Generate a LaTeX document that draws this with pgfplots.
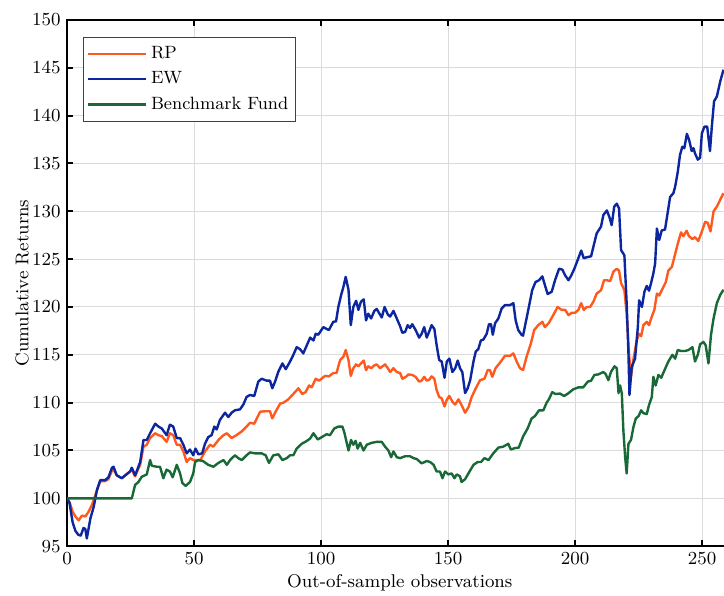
\documentclass[border=0pt]{standalone}
\usepackage{fontspec}
\usepackage{pgfplots}
\pgfplotsset{compat=1.18}
\definecolor{rpc}{RGB}{255,90,30}
\definecolor{ewc}{RGB}{12,38,160}
\definecolor{bmc}{RGB}{25,105,55}
\begin{document}
\fontsize{9.2}{11}\selectfont
\begin{tikzpicture}
\begin{axis}[
  scale only axis, width=332.7pt, height=263pt,
  xmin=0, xmax=262, ymin=95, ymax=150,
  xtick={0,50,100,150,200,250}, ytick={95,100,...,150},
  grid=major, major grid style={black!14, line width=0.5pt},
  axis line style={line width=1pt, black},
  tick style={line width=1pt, black}, major tick length=3pt, tick align=inside,
  /pgf/number format/assume math mode=true,
  xlabel={Out-of-sample observations}, ylabel={Cumulative Returns},
  every axis x label/.style={at={(axis description cs:0.5,-0.0703)}, anchor=center},
  every axis y label/.style={at={(axis description cs:-0.0676,0.5)}, rotate=90, anchor=center},
  legend style={at={(axis description cs:0.024,0.968)}, anchor=north west, draw=black!75, line width=0.6pt, fill=white, font=\fontsize{8.9}{11}\selectfont, inner xsep=1.5pt, inner ysep=2.5pt, row sep=1.2pt},
  legend cell align=left,
  legend image code/.code={\draw[#1] (0pt,0pt) -- (29pt,0pt);},
  every axis plot/.append style={line width=1.2pt, line join=round},
]
\addplot[rpc] table {
0 100
1 99.6
2.2 98.6
3.3 98.1
4.6 97.7
5.9 98.2
7.2 98.1
8.5 98.6
9.8 99.3
11.1 100.3
13.1 101.8
15.0 101.8
16.3 102.0
17.7 102.9
18.3 103.0
19.6 102.4
21.6 102.1
22.9 102.4
24.8 102.8
25.5 103.0
26.8 102.3
28.1 103.1
28.8 103.5
30.1 105.4
31.4 105.6
32.7 106.3
34.7 106.8
36.0 106.6
37.3 106.5
39.2 105.9
40.5 106.8
41.8 106.6
43.2 105.6
44.5 105.6
45.8 104.9
47.1 103.8
48.4 104.2
49.7 104.0
51.0 104.0
52.5 104.0
54.3 104.9
56.3 105.6
57.6 105.4
59.6 106.1
61.6 106.6
62.9 106.8
64.8 106.3
66.7 106.6
68.8 107.0
70.7 107.5
72.0 107.9
73.7 107.8
76.0 109.05
77.9 109.1
79.9 109.1
80.8 108.35
82.1 109.05
83.9 109.9
85.2 110.0
86.9 110.3
88.7 110.8
91.1 111.5
92.6 110.9
93.9 111.1
95.3 111.8
96.3 111.6
97.9 112.5
99.2 112.3
101.6 112.8
103.1 112.75
104.8 113.1
106.1 113.1
107.5 114.45
108.8 114.8
109.7 115.5
110.8 114.45
111.7 112.8
112.7 113.6
113.8 114.0
114.7 113.8
115.7 114.1
116.8 114.4
117.7 113.4
118.6 113.8
119.7 113.6
121.0 113.9
121.9 114.0
123.3 113.6
124.2 113.8
125.2 114.0
126.3 113.6
127.2 113.2
128.5 113.6
129.8 113.2
131.1 113.1
132.0 112.5
133.4 112.7
134.4 112.95
135.9 112.9
137.2 112.7
138.6 112.2
139.6 112.3
140.6 112.7
141.6 112.3
142.6 112.4
143.5 112.75
144.6 112.5
145.5 111.3
146.5 110.6
147.5 110.45
148.6 109.6
149.5 110.3
150.5 110.7
151.7 110.1
152.8 109.8
154.1 110.35
155.3 109.75
156.7 108.95
158.0 109.5
159.3 110.6
160.9 111.5
162.6 112.35
164.3 112.5
165.6 113.4
166.5 113.4
167.4 112.7
168.7 113.6
170.5 114.2
172.4 114.9
174.4 114.9
175.7 115.15
177.0 114.3
178.3 113.6
179.5 113.4
180.9 114.8
182.6 116.2
183.9 117.6
185.5 118.1
187.1 118.45
188.1 117.9
189.7 118.35
191.4 119.15
193.1 120.0
194.7 119.7
196.1 119.7
197.4 119.15
198.7 119.4
200.0 119.4
201.3 119.7
202.4 120.4
203.4 119.7
204.6 120.0
205.9 120.0
207.2 120.55
208.5 121.4
210.2 121.75
211.4 122.8
212.5 122.8
213.8 122.7
215.1 123.7
216.4 124.0
217.3 123.8
218.1 122.5
219.4 121.75
220.3 119.3
221.2 115.15
222.0 112.7
222.9 114.45
224.3 116.55
225.2 117.2
226.0 116.95
226.9 118.1
228.2 118.45
229.1 118.1
230.2 119.0
231.2 119.7
232.2 121.4
233.1 121.2
234.4 121.9
235.7 122.6
236.7 123.8
238.1 124.2
239.1 125.25
240.4 126.6
241.7 127.8
242.6 127.4
243.9 127.97
244.8 127.4
246.2 127.1
247.2 127.3
248.5 126.9
249.9 127.9
251.2 128.9
252.2 128.8
253.3 127.9
254.5 130.0
255.8 130.5
257.1 131.2
258.4 131.9
};
\addlegendentry{RP}
\addplot[ewc] table {
0 100
1 99.5
2.2 97.5
3.3 96.6
4.4 96.2
5.4 96.1
6.5 96.9
7.2 96.8
7.8 95.8
8.6 97.0
9.2 97.9
10.5 99.1
11.8 100.9
13.1 101.9
15.0 101.9
16.3 102.2
17.7 103.2
18.3 103.3
19.6 102.4
21.6 102.1
22.9 102.4
24.8 102.8
25.5 103.2
26.8 102.4
28.1 103.3
28.8 103.8
30.1 106.1
31.4 106.1
32.7 106.8
34.7 107.8
36.0 107.5
37.3 107.3
39.2 106.6
40.5 107.7
41.8 107.5
43.2 106.3
44.5 106.3
45.8 105.6
47.1 104.7
48.4 105.1
49.7 104.5
50.6 105.2
51.7 104.6
53.2 104.7
54.3 105.7
55.6 106.4
56.9 106.6
58.0 107.5
58.9 107.2
60.2 108.2
62.2 108.95
63.5 108.5
64.8 108.95
66.1 109.2
68.1 109.3
69.4 109.8
70.7 110.6
72.0 110.8
73.7 110.7
75.3 112.2
76.6 112.5
78.6 112.3
79.9 112.3
80.8 111.5
81.9 112.2
83.2 113.25
84.8 114.1
86.1 113.5
87.8 114.3
89.1 115.0
90.4 115.8
91.7 115.6
93.0 115.15
94.4 116.0
95.7 116.8
97.0 116.5
97.9 117.2
98.9 117.1
100.9 117.9
102.2 117.7
103.1 117.6
104.8 118.45
105.9 118.5
106.8 120.0
107.9 121.25
108.8 122.1
109.7 123.15
110.8 121.8
111.7 118.1
112.7 120.0
113.8 120.65
114.7 119.7
115.7 120.55
116.8 120.8
117.7 118.6
118.6 119.3
119.7 118.8
121.0 119.6
121.9 119.8
123.0 119.3
123.9 118.9
125.0 120.0
126.3 119.2
127.2 119.0
128.5 119.6
129.8 118.8
131.1 118.0
132.0 117.3
133.1 117.4
134.1 118.1
135.0 117.8
135.9 118.2
137.2 117.6
138.6 116.8
139.6 117.2
140.6 117.9
141.6 116.8
142.6 117.45
143.5 118.1
144.6 117.7
145.5 116.0
146.5 114.45
147.5 114.3
148.6 112.6
149.5 114.3
150.5 114.6
151.7 113.2
152.8 113.6
153.8 114.4
154.7 113.6
155.6 113.2
156.7 111.0
157.7 111.5
158.7 112.35
160.0 114.3
160.9 115.35
161.9 115.6
162.9 116.5
163.9 116.6
165.2 117.2
166.1 118.2
166.9 118.2
167.6 117.1
168.5 118.3
169.8 118.8
171.1 119.85
172.4 120.2
174.4 120.2
175.7 120.4
176.6 118.6
177.6 117.6
178.9 117.1
179.5 117.0
180.5 118.3
181.8 120.0
183.1 121.75
184.4 122.6
185.8 122.8
187.1 123.2
188.1 122.3
189.2 121.35
190.8 121.6
192.1 122.8
193.7 124.0
195.0 123.9
196.1 123.3
197.4 122.8
198.5 123.3
199.7 124.0
201.0 124.9
202.4 125.9
203.4 125.1
204.6 125.2
206.3 125.3
207.2 126.3
208.5 127.7
210.2 128.4
211.1 129.6
212.5 130.1
213.5 129.4
214.4 128.55
215.4 130.5
216.4 130.8
217.3 130.3
218.1 125.95
219.4 125.4
220.3 120.4
221.0 115.15
221.4 110.8
222.3 113.75
223.6 114.6
224.7 117.9
225.2 120.7
226.3 120.0
227.3 121.6
228.2 122.2
229.1 121.7
229.9 122.5
230.8 123.5
231.5 124.55
232.2 128.2
233.1 127.0
234.1 128.0
235.4 128.1
236.7 130.3
237.4 131.5
238.7 131.9
239.4 132.6
240.4 134.1
241.3 135.9
242.2 136.75
243.0 136.6
244.0 138.1
244.9 137.45
245.9 136.3
246.6 136.6
247.2 136.05
248.3 135.4
249.2 135.6
249.9 138.15
250.9 138.85
252.0 138.85
253.1 136.3
253.8 138.8
254.7 141.5
255.8 142.0
257.1 143.55
258.4 144.8
};
\addlegendentry{EW}
\addplot[bmc] table {
0 100
25.5 100
26.8 101.4
28.1 101.7
29.4 102.25
31.4 102.5
32.7 104.0
33.4 103.4
35.3 103.3
36.6 103.3
37.9 102.1
39.2 103.0
40.5 102.8
41.6 102.2
43.2 103.5
44.5 102.6
45.4 101.6
46.7 101.3
48.4 101.7
49.7 102.6
50.4 103.8
51.7 104.0
53.5 103.9
55.6 103.5
57.6 103.3
59.6 103.7
61.6 104.0
62.9 103.5
64.2 104.0
66.1 104.5
67.4 104.2
68.8 104.0
70.7 104.5
72.0 104.8
74.0 104.7
76.6 104.7
78.2 104.5
79.5 103.7
81.2 104.5
83.2 104.6
84.8 104.0
86.5 104.2
87.8 104.5
89.1 104.5
90.4 105.2
92.4 105.7
94.4 106.0
95.7 106.25
97.0 106.8
98.7 106.15
100.3 106.4
102.2 106.7
103.5 106.6
105.2 107.3
106.8 107.5
108.4 107.5
109.2 106.85
110.8 105.0
111.8 106.1
112.7 105.6
113.6 106.0
114.4 105.2
115.4 105.8
116.7 105.0
118.0 105.6
119.9 105.8
121.9 105.9
123.9 105.9
125.2 105.4
126.5 105.0
127.6 104.3
128.5 104.9
129.8 104.3
131.1 104.2
133.1 104.4
135.0 104.4
136.4 104.2
137.7 104.1
139.6 103.65
141.6 103.9
142.9 103.8
144.3 103.5
145.5 102.8
146.8 102.8
147.8 102.1
148.8 102.8
150.1 102.5
151.4 102.6
152.5 102.1
153.4 102.5
154.7 102.3
155.3 101.7
156.7 102.0
158.0 102.6
160.0 103.5
161.7 103.8
163.0 103.8
164.3 104.2
165.9 104.0
167.8 104.7
169.8 105.3
171.7 105.4
173.7 105.7
174.7 105.1
176.3 105.25
177.8 105.3
179.6 106.5
181.3 107.3
182.9 108.35
184.2 108.6
185.8 109.2
187.5 109.2
188.8 110.0
189.7 110.35
191.0 111.1
192.3 110.9
194.0 110.95
195.7 110.7
197.2 110.95
199.3 111.4
201.3 111.6
203.2 111.6
205.0 112.2
206.3 112.3
207.6 112.9
209.1 112.95
211.1 113.2
212.0 113.0
213.1 112.35
214.1 113.2
215.5 113.8
216.4 113.6
217.1 111.0
217.7 111.8
218.4 110.95
219.0 107.1
219.7 104.3
220.3 102.6
221.0 105.7
222.0 106.1
223.0 107.5
223.9 108.35
225.0 108.6
226.0 109.2
226.9 108.9
228.2 108.8
229.1 109.75
230.2 110.6
230.8 112.7
231.7 111.8
232.8 112.9
233.9 112.6
235.2 113.4
236.7 114.3
238.3 115.0
239.4 114.6
240.4 115.5
241.7 115.4
243.3 115.4
244.6 115.5
246.2 115.8
247.2 114.3
248.3 115.0
249.2 116.1
250.5 116.35
251.4 116.0
252.5 114.1
253.5 117.1
254.5 118.8
255.8 120.4
257.1 121.25
258.4 121.8
};
\addlegendentry{Benchmark Fund}
\end{axis}
\pgfresetboundingbox
\path[use as bounding box] ([shift={(-33.5pt,-24.5pt)}]current axis.south west) rectangle ([shift={(328.4pt,10pt)}]current axis.north west);
\end{tikzpicture}
\end{document}
